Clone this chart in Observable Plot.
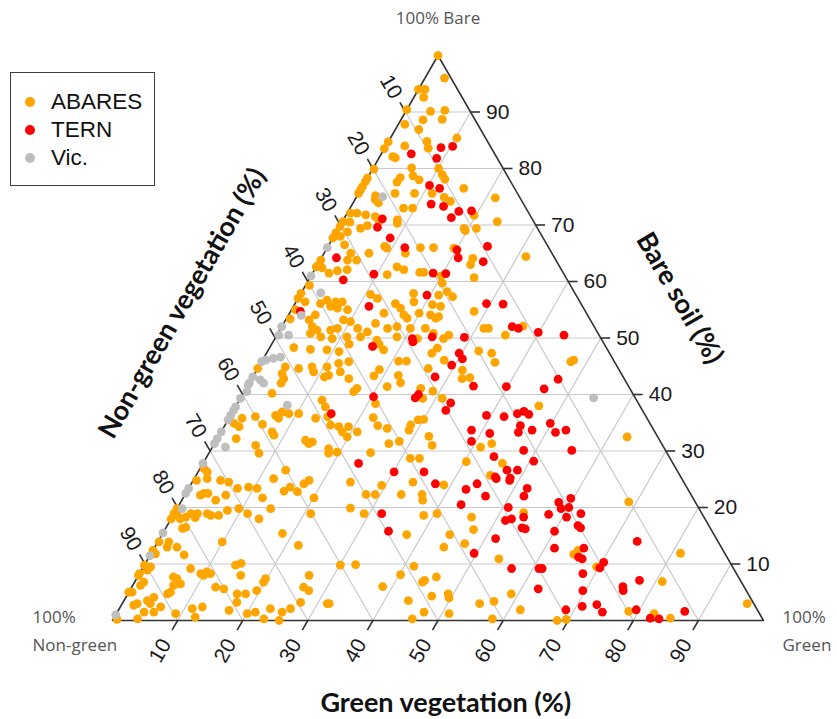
<!DOCTYPE html>
<html>
<head>
<meta charset="utf-8">
<script src="https://cdn.jsdelivr.net/npm/d3@7"></script>
<script src="https://cdn.jsdelivr.net/npm/@observablehq/plot@0.6"></script>
<style>
  html, body { margin: 0; padding: 0; background: #fff; }
  #wrap { position: relative; width: 837px; height: 719px; }
  #legend { position: absolute; left: 10px; top: 72px; width: 143px; height: 112px;
    border: 1.5px solid #404040; font-family: "Liberation Sans", Arial, sans-serif; font-size: 22.5px; color: #111; }
  #legend .item { position: absolute; left: 0; height: 26px; line-height: 26px; }
  #legend .dot { position: absolute; left: 14px; top: 8px; width: 10px; height: 10px; border-radius: 50%; }
  #legend .lab { position: absolute; left: 40px; top: 0; white-space: nowrap; }
</style>
</head>
<body>
<div id="wrap"><div id="chart"></div><div id="legend"></div></div>
<script>
const S = Math.sqrt(3) / 2;
const seriesNames = ["ABARES", "TERN", "Vic."];
const seriesColors = ["#FFA500", "#FF0000", "#BEBEBE"];
const tickValues = [10, 20, 30, 40, 50, 60, 70, 80, 90];
const axisTitles = ["Green vegetation (%)", "Non-green vegetation (%)", "Bare soil (%)"];
const cornerLabels = ["100% Bare", "100%", "Non-green", "100%", "Green"];

// [green %, bare %]  (non-green = 100 - green - bare)
const abares = [
[0,100],[3,96],[0,94],[1,94],[1.5,92.6],[0,90.4],[3.8,90.1],[5.9,90.3],[3.4,88.6],[6.3,88.7],[1,87.8],[3.6,86.9],[10.2,85.4],[0,84.7],[0,83.5],[2.9,84],[5.9,84.8],[6.7,83.6],[2,82.1],[2.5,81.9],[0.2,79.9],[5.9,80.1],[10.1,80],[0,78.3],[0,77.7],[0,76.8],[0,76.2],[0,75.6],[5,78.4],[4.9,77.6],[6.8,78.7],[8.1,78],[11.2,78.9],[12,78.1],[15.7,76.5],[5.6,75.6],[8.6,75.6],[11.3,75.6],[13.5,74.9],[21.4,74.8],[2.8,75.2],
[3.1,74.5],[3.9,73.9],[8.2,73],[9.6,73],[0.5,72.1],[1.5,72.1],[3,71.8],[4.6,71.5],[5.6,70.7],[8.3,70.9],[8.6,70.3],[0.1,70.6],[0.1,69.7],[1.2,70.5],[3.4,69.4],[4.2,69.9],[1.7,68.8],[0,68.6],[0,67.7],[1,68],[8.7,66.2],[9.2,65.9],[12.5,65],[14.3,66],[16.3,66],[2.4,66.5],[4.1,65],[4.2,63.8],[5.6,63.8],[6.9,65],[0.1,63.8],[0.2,62.9],[0,62.6],[1,62.4],[2.5,61.5],[3.6,61.9],[5,62.1],[11.6,61.2],[12.4,62.6],[13.7,62.1],[16.4,61.6],[17,61.6],[20,61],[0.6,59.3],[0,57.9],[0,57],[1.4,56.4],[0.6,55],[4.6,56.7],[6.1,56.4],[6.9,55.3],[5.7,55.6],[7.1,56.4],[8.6,55],[3.9,56.1],[10.8,57.7],[12.2,57],[14.5,54.4],[15.4,56.1],[16.6,55.3],[17.3,57.9],[18.1,56.4],[21.2,55.9],[17.7,54.1],[19.9,54.4],[21.8,54.1],[22.9,53.5],[0.6,53.4],
[4.1,54.1],[3.6,53.2],[4.7,52],[5.7,51.4],[5,50.8],[6.9,50.2],[7.8,51.4],[8.7,51.7],[8.8,49.9],[8.9,53.2],[10.1,52.9],[11.8,51.7],[10.9,50.2],[13,50.2],[13.6,51.1],[14.1,52.6],[16.4,51.7],[17.7,52],[18.5,53.5],[19.9,51.7],[18.6,50.2],[21.9,49.9],[22.2,51.7],[23.9,50.8],
[14.8,74.2],[19.7,71.7],[23.8,70.6],[19.3,69.4],[19.7,69],[21.2,69.4],[19.5,65.9],[23.3,64.1],[23.5,63],[31.3,64.4],[25.2,60.7],[20.8,59.7],[22.3,58.2],[23.6,57.3],[21.3,57.6],[22.6,55.6],[23.2,53.8],[28.2,54.7],[31.2,51.7],[31.9,51.7],[37,52.1],[35.1,50.5],[26.4,50.5],
[3.7,48.3],[6.4,48],[9,47.9],[11,47.6],[11.9,48.9],[0,44.6],[4.1,44.9],[4.2,43.7],[4.9,42.8],[4.9,42],[6.3,44.6],[8.2,44.9],[8.9,44],[10.5,44.9],[11,43.1],[11.5,43.4],[12,45.5],[13,44],[13.4,45.8],[17,41.1],[14.9,42.8],[16.8,40.5],[4.4,40.2],[2,35.8],[2.3,34.3],[1.2,34.9],[2.9,32.2],[0.6,26.9],[1.4,26.3],[3.9,36.1],[5.7,34.7],[7.8,33.4],[8.4,32.8],[6.5,31],[7.7,29.6],[6.9,36.3],[7.6,36.9],[8.8,36.6],[7.6,35.8],[10.3,36.6],[13.3,26.6],[13.7,31.9],[14.5,31.3],[14.9,31.6],[13.3,35.8],[15,36.1],[16.2,34.6],[12.7,39],[13.8,37.8],[17.6,34.3],[18.6,33.4],[19.1,34.3],[19.8,32.5],[20.9,33.4],[18,30.4],[18.4,29.6],[19.6,29.8],
[15.8,49.6],[16.5,48.9],[17.7,47.9],[25.9,49.9],[25.4,47.3],[25.8,48.2],[27.9,46.1],[32.4,47.7],[34.6,47.3],[35.9,45.7],[31.6,44.3],[32.3,42.8],[33.4,43],[26.2,44.6],[21,45.9],[22.2,45.9],[18.8,44.4],[18.5,43.3],[22.2,43.4],[23.2,42.1],[21.5,41.4],[26.8,41.1],[28,39.3],[28.9,40.6],[31,39.3],[21.2,38.4],[22.1,35.9],[23.5,34.5],[25.2,34],[28.5,34.6],[28.7,33.7],[29.2,35.5],[30,35.6],[26.8,31.3],[28.2,31.7],[32.3,32.6],[33.6,31],[24.8,29.7],[31.4,28.7],[32.8,28.7],[41.2,30.7],[42.6,31.3],[40.3,28.1],[46,27.8],[45.2,25.7],[46.5,38],
[47.5,45.8],[47.8,46.1],[62.8,32.5],
[0.5,24.8],[2,25.1],[2.4,22.2],[2.8,22.5],[3.4,22.5],[5.2,21.3],[6.3,22.2],[4.2,24.8],[5.6,24.5],[7.5,23.4],[9.1,23.6],[10.5,23.4],[12.2,21.7],[12.2,25.1],[14.9,22.9],[15.5,23.6],[17,22.8],[17.3,24.2],[17.8,24.8],[20.1,21.7],
[0,19.8],[0,18.9],[0,18],[0.6,18.6],[1.4,18],[2.1,18.3],[2.6,18.9],[3.6,18.9],[3.6,18.2],[3,16.5],[2.6,16.3],[5.1,18.9],[5.8,18.6],[7,18.6],[7.9,19.5],[9.5,19.8],[11.3,18.9],[13.5,18],[14.4,19.8],[21,18.9],[18.4,15.4],[21.9,13.3],[9.9,13.9],
[1.7,13.9],[1.9,13],[3.4,13],[0.2,13.9],[0,12.4],[0.7,11.8],[5.2,11.6],
[0,9.8],[0.9,8.9],[1.1,9.5],[0,8.3],[0,8],[1.2,6.2],[1.4,6.8],
[0,5],[0.5,5],[1.9,2.7],[2.3,3],[4.1,1.5],[5.6,1.5],[6.2,2.4],[3.6,3.5],[4.3,3],[4.3,4.1],
[0.6,0.2],[3.7,0.3],[9.1,1.2],
[6.3,6.2],[6.4,5],[5.5,7.7],[6.2,7.4],[7.2,6.5],[6.1,4.7],
[7.4,9.2],[9.4,8.3],[10.2,8.6],[10.9,8.3],[10,8],
[12.9,5.9],[14.3,5.6],[11.2,2.1],[12.6,2.4],[12.4,0.6],
[14,9.8],[14.7,10.1],[15.7,8],
[16.8,4.7],[18.1,4.7],[17.5,3.2],[19.5,5.3],[19.8,6.8],[19.8,7.4],
[17,1.8],[20.1,1.2],[21.2,1.5],[23.1,0.3],[23.2,2.1],[25.3,1.5],[26.3,2.1],[25.6,0],
[26.2,8],[26.4,5.9],[27.5,5.3],[27.3,3.2],[31.5,3],
[24.3,24.5],[27.8,22.3],[29.2,22.3],[29.4,23.9],[33.2,22.3],[33.9,24.5],[36.4,22.3],[37,21.3],[38.9,24],
[26.6,19.9],[29.2,18.9],[38.5,18.6],[40.4,18.9],[37.6,15.2],[46,18.3],[47.4,16.1],[44.2,15.2],[44.4,13],[47.3,13.6],[53.9,10.9],[53.6,19.1],
[30.1,9.8],[32.4,9.9],[31.8,3],[38.5,6],[40.2,8.1],[41.5,9.6],[44.2,6.8],[44.4,7.1],[45.9,7.7],[43.7,3.5],[46.9,4.3],[49.2,4.7],[49.7,4],[47.1,1.5],[45.9,0.3],[51.1,1.2],[54.9,3],[56.9,3.4],[58.2,0.3],[58.9,4.7],[61.7,1.9],
[65,11.7],[65.3,12.4],[69.6,9.5],[82.6,1.2],[85.5,0.4],[78.5,1.6],[81,6.9],[81.3,11.9],[96,3],[68.8,21],[68.3,0],[69.6,0.2]
];

const tern = [
[4.6,82.6],[8.6,83.7],[10.3,83.9],[8.9,81.8],[10.2,77],[12,76.5],
[12.1,73.7],[5.9,71.1],[5.9,69.6],[8.8,67.7],[11.9,66],[2.3,64.2],[5.3,60.3],[9.5,61.3],[18.5,61.5],[19.5,57.6],[11.6,55.6],[1.5,54.7],[21.1,49.9],[24,50.2],
[14.2,73.3],[17,72.4],[16.4,71.3],[18.9,72.5],[20.1,65.6],[21,64.2],[24.5,66.2],[25.2,63.5],[20.5,61.4],[29.4,56.1],[32,56],[35.4,52],[36.5,51.7],[39.9,51],[44.1,50.5],[29,50.1],
[15.3,36.6],[23.9,27.8],
[15.7,48.5],[21.5,49.3],[29.6,47.3],[30.6,46.3],[29.5,45.2],[34.7,41.5],[28,43.1],[26.8,39.4],[27,40],[32.7,38.5],[32.6,37.2],[20.3,39.6],[30.1,26.3],[34.7,26.3],[44.1,29],[47.3,26.6],[48.9,26.6],[48.5,25.2],[46.1,25.4],[38.3,33.7],[39.3,31.7],[41.4,33.1],[39.3,36.3],[42.1,36.1],[43.9,36.6],[44.7,37],[45.7,36.5],[45.4,34.5],[45.7,33.3],[47.6,33.7],[48.1,30.1],[50.6,28.2],[49.8,34.9],[47.1,42.7],[45.8,41],[39.8,41.4],
[51.4,33.3],[52.8,33.7],[55.5,30.1],
[37.5,24.2],[42.7,23.2],[43.9,24.2],[46.3,22],[46.4,25.1],[48.6,24.8],[52,23.4],[52.2,22],[31.9,18.9],[34.5,15.8],[43.3,20.5],[49.6,11.9],[51.6,14.5],[50.8,20],[51.5,17.7],[52.3,18],[54,18.3],[54.7,16.4],[55.3,16.2],[56.7,9.2],[60.9,9.2],[62.6,5.6],
[58.1,20.9],[59,19.8],[60.1,20],[59.6,21.6],[60.6,18.3],[62.5,18.9],[57.6,18.8],[63.1,16.8],[63.7,16.4],[60,15.8],[61.5,12.8],[66,12.8],[66,11.2],[66.7,10.9],[61.4,9.2],[68.1,8.3],[69.6,5.3],[70.3,10.3],[70.2,9.3],[73.6,14],[75.4,6],[75.8,5.3],[77.4,7.1],[79.5,1.9],[73,2.8],[74.5,1.5],[70.9,2.5],[68.7,1.9],[82.4,0.4],[83.8,0.3],[87.1,1.6]
];

const vic = [
[4,75],[0,66],[0,61],[3,58],[2,54],[0,52],[0.3,50.5],[1.8,50.5],[0,45.8],[0.5,46.1],[1.5,46.4],[2.5,46.6],[0,43.1],[0,42],[1.4,42.6],[2.2,42],[0,41.7],[0.4,40.5],[0,39.3],[0,37.8],[0,37.2],[0,36.3],[0,35.5],[7.8,38.1],[0,33.4],[0,32.2],[0,31.3],[2,30.7],[0,27.8],[0,23.4],[0,22.5],[0.8,19.8],[0,15.5],[0,11.5],[0,1],[54.2,39.4]
];

// ternary (green, bare) -> cartesian plot coordinates
const tx = (g, b) => g + b / 2;
const ty = (g, b) => b * S;

const seriesData = [abares, tern, vic];
const points = seriesData.flatMap((arr, i) => arr.map(([g, b]) => ({series: seriesNames[i], green: g, bare: b})));

// vertices: Non-green (g0,b0), Green (g100,b0), Bare (g0,b100)
const vertices = [[0, 0], [100, 0], [0, 100], [0, 0]];

const grid = [
  ...tickValues.map(b => ({g1: 0, b1: b, g2: 100 - b, b2: b})),          // constant bare
  ...tickValues.map(g => ({g1: g, b1: 0, g2: g, b2: 100 - g})),          // constant green
  ...tickValues.map(n => ({g1: 100 - n, b1: 0, g2: 0, b2: 100 - n}))     // constant non-green
];

const TL = 1.7; // tick length in plot units
const bareTicks = tickValues.map(b => ({x1: tx(100 - b, b), y1: ty(100 - b, b), x2: tx(100 - b, b) + TL * 0.85, y2: ty(100 - b, b)}));
const greenTicks = tickValues.map(g => ({x1: tx(g, 0), y1: 0, x2: tx(g, 0) - TL * 0.5, y2: -TL * S}));
const ngTicks = tickValues.map(n => ({x1: tx(0, 100 - n), y1: ty(0, 100 - n), x2: tx(0, 100 - n) - TL * 0.5, y2: ty(0, 100 - n) + TL * S}));

const LD = 5.35; // label distance along tick direction
const titleFont = "Lato, sans-serif";
const cornerFont = "'Open Sans', sans-serif";
const chart = Plot.plot({
  width: 837,
  height: 719,
  marginLeft: 112,
  marginRight: 74,
  marginTop: 55,
  marginBottom: 99,
  x: {domain: [0, 100], axis: null},
  y: {domain: [0, 100 * S], axis: null},
  color: {domain: seriesNames, range: seriesColors},
  style: {fontFamily: "'Liberation Sans', Arial, sans-serif", fontSize: "21px", color: "#1a1a1a", background: "white", overflow: "visible"},
  marks: [
    Plot.link(grid, {x1: d => tx(d.g1, d.b1), y1: d => ty(d.g1, d.b1), x2: d => tx(d.g2, d.b2), y2: d => ty(d.g2, d.b2), stroke: "#c9c9c9", strokeWidth: 1.2}),
    Plot.line(vertices, {x: d => tx(d[0], d[1]), y: d => ty(d[0], d[1]), stroke: "#333", strokeWidth: 1.6}),
    Plot.link(bareTicks, {x1: "x1", y1: "y1", x2: "x2", y2: "y2", stroke: "#333", strokeWidth: 1.6}),
    Plot.link(greenTicks, {x1: "x1", y1: "y1", x2: "x2", y2: "y2", stroke: "#333", strokeWidth: 1.6}),
    Plot.link(ngTicks, {x1: "x1", y1: "y1", x2: "x2", y2: "y2", stroke: "#333", strokeWidth: 1.6}),
    Plot.dot(points, {x: d => tx(d.green, d.bare), y: d => ty(d.green, d.bare), fill: "series", r: 4.4}),
    Plot.text(tickValues, {x: b => tx(100 - b, b) + TL * 0.85, y: b => ty(100 - b, b), text: d => String(d), textAnchor: "start", dx: 6, fontSize: 21, fill: "#1a1a1a"}),
    Plot.text(tickValues, {x: g => tx(g, 0) - LD * 0.5, y: -LD * S, text: d => String(d), rotate: -60, fontSize: 21, fill: "#1a1a1a"}),
    Plot.text(tickValues, {x: n => tx(0, 100 - n) - 4.45 * 0.5, y: n => ty(0, 100 - n) + 4.45 * S, text: d => String(d), rotate: 60, fontSize: 21, fill: "#1a1a1a"}),
    // axis titles
    Plot.text([axisTitles[0]], {x: 51.2, y: -12.7, text: d => d, fontFamily: titleFont, fontWeight: "bold", fontSize: 27, fill: "#111"}),
    Plot.text([axisTitles[1]], {x: 10.75, y: 48.6, text: d => d, rotate: -60, fontFamily: titleFont, fontWeight: "bold", fontSize: 27, fill: "#111"}),
    Plot.text([axisTitles[2]], {x: 87.1, y: 49.4, text: d => d, rotate: 60, fontFamily: titleFont, fontWeight: "bold", fontSize: 27, fill: "#111"}),
    // corner labels
    Plot.text([cornerLabels[0]], {x: 50, y: 100 * S, dy: -37, text: d => d, fontFamily: cornerFont, fontSize: 17, fill: "#555"}),
    Plot.text([cornerLabels[1]], {x: 0, y: 0, dx: -80, dy: -3, textAnchor: "start", text: d => d, fontFamily: cornerFont, fontSize: 17, fill: "#555"}),
    Plot.text([cornerLabels[2]], {x: 0, y: 0, dx: -80, dy: 25, textAnchor: "start", text: d => d, fontFamily: cornerFont, fontSize: 17, fill: "#555"}),
    Plot.text([cornerLabels[3]], {x: 100, y: 0, dx: 19, dy: -3, textAnchor: "start", text: d => d, fontFamily: cornerFont, fontSize: 17, fill: "#555"}),
    Plot.text([cornerLabels[4]], {x: 100, y: 0, dx: 19, dy: 25, textAnchor: "start", text: d => d, fontFamily: cornerFont, fontSize: 17, fill: "#555"})
  ]
});
document.getElementById("chart").appendChild(chart);

const legend = document.getElementById("legend");
seriesNames.forEach((name, i) => {
  const item = document.createElement("div");
  item.className = "item";
  item.style.top = (16 + i * 28) + "px";
  item.innerHTML = `<span class="dot" style="background:${seriesColors[i]}"></span><span class="lab">${name}</span>`;
  legend.appendChild(item);
});
</script>
</body>
</html>
